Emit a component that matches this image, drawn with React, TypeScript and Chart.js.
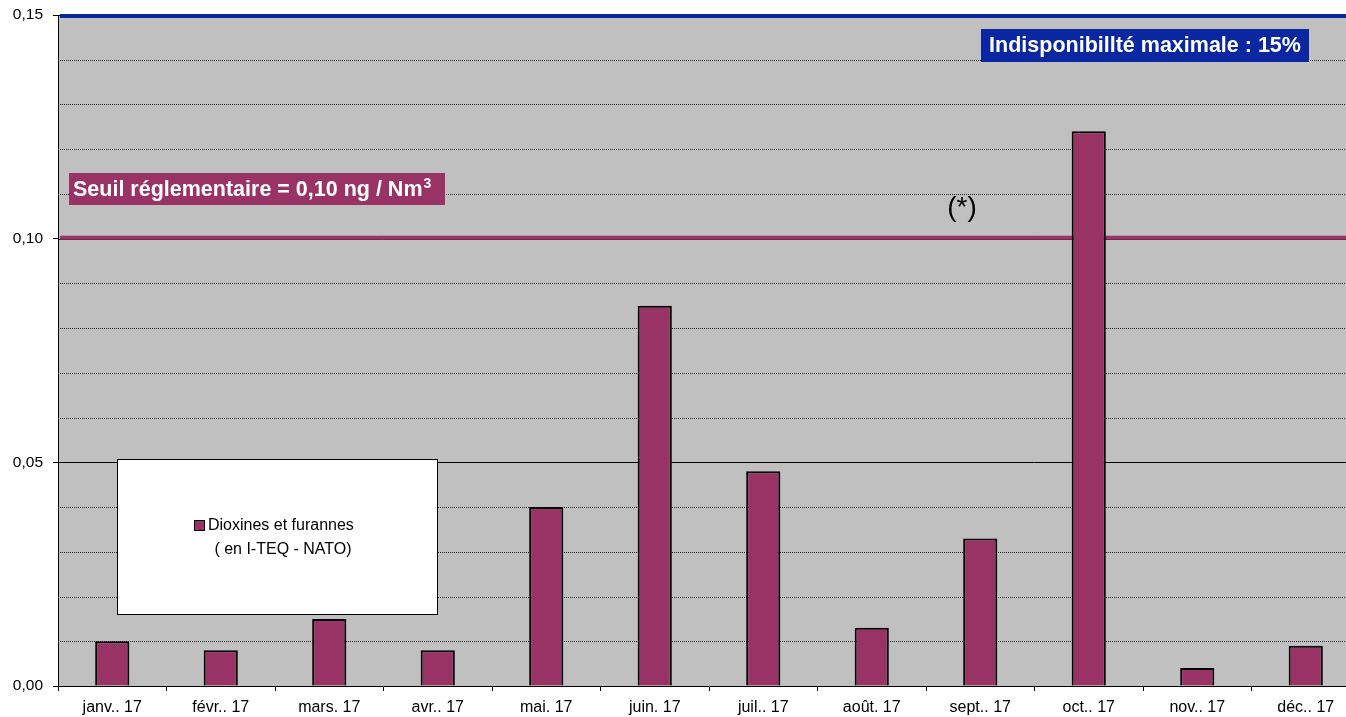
import React, { useEffect, useRef } from "react";
import { Chart, registerables } from "chart.js";

Chart.register(...registerables);

const categories: string[] = [
  "janv.. 17", "févr.. 17", "mars. 17", "avr.. 17", "mai. 17", "juin. 17",
  "juil.. 17", "août. 17", "sept.. 17", "oct.. 17", "nov.. 17", "déc.. 17",
];
const dioxinValues: number[] = [0.010, 0.008, 0.015, 0.008, 0.040, 0.085, 0.048, 0.013, 0.033, 0.124, 0.004, 0.009];
const seriesLabel = "Dioxines et furannes";
const seriesSubLabel = "( en I-TEQ - NATO)";
const maxUnavailability = 0.15;
const regulatoryThreshold = 0.10;
const maxLabel = "Indisponibillté maximale : 15%";
const thresholdLabel = "Seuil réglementaire = 0,10 ng / Nm";
const thresholdSup = "3";
const noteLabel = "(*)";
const yMin = 0;
const yMax = 0.15;
const yStep = 0.01;

const BAR = "#993366";
const BLUE = "#0a26a0";
const FONT = "'Liberation Sans', Arial, sans-serif";

const decorPlugin = {
  id: "decor",
  beforeDraw(chart: any) {
    const { ctx, chartArea: a } = chart;
    ctx.save();
    ctx.fillStyle = "#c0c0c0";
    ctx.fillRect(a.left, a.top, a.right - a.left, a.bottom - a.top);
    ctx.restore();
  },
  beforeDatasetsDraw(chart: any) {
    const { ctx, chartArea: a } = chart;
    const y = chart.scales.y;
    ctx.save();
    y.ticks.forEach((t: any) => {
      const v = t.value;
      const n = Math.round(v * 100);
      if (n === 0) return;
      const py = Math.round(y.getPixelForValue(v)) + 0.5;
      ctx.beginPath();
      if (n % 5 === 0) {
        ctx.setLineDash([]);
        ctx.strokeStyle = "#000";
      } else {
        ctx.setLineDash([1, 1]);
        ctx.strokeStyle = "#222";
      }
      ctx.lineWidth = 1;
      ctx.moveTo(a.left, py);
      ctx.lineTo(a.right, py);
      ctx.stroke();
    });
    ctx.setLineDash([]);
    const drawLine = (val: number, color: string, off: number) => {
      const py = y.getPixelForValue(val);
      ctx.beginPath();
      ctx.strokeStyle = color;
      ctx.lineWidth = 4;
      ctx.moveTo(a.left + 2, py + off);
      ctx.lineTo(a.right, py + off);
      ctx.stroke();
    };
    drawLine(maxUnavailability, BLUE, 1);
    drawLine(regulatoryThreshold, BAR, -1);
    ctx.restore();
  },
  afterDatasetsDraw(chart: any) {
    const { ctx } = chart;
    ctx.save();
    ctx.fillStyle = BLUE;
    ctx.fillRect(981, 29, 328, 33);
    ctx.fillStyle = "#fff";
    ctx.font = `bold 21.5px ${FONT}`;
    ctx.textBaseline = "middle";
    ctx.textAlign = "center";
    ctx.fillText(maxLabel, 1145, 46.5);

    ctx.fillStyle = BAR;
    ctx.fillRect(69, 173, 376, 32);
    ctx.fillStyle = "#fff";
    ctx.font = `bold 21.5px ${FONT}`;
    ctx.textAlign = "left";
    ctx.fillText(thresholdLabel, 73, 190);
    const w = ctx.measureText(thresholdLabel).width;
    ctx.font = `bold 14px ${FONT}`;
    ctx.fillText(thresholdSup, 73 + w + 1, 184);

    ctx.fillStyle = "#000";
    ctx.font = `28px ${FONT}`;
    ctx.textAlign = "center";
    ctx.fillText(noteLabel, 962, 208);

    ctx.fillStyle = "#fff";
    ctx.fillRect(117, 459, 320, 155);
    ctx.strokeStyle = "#000";
    ctx.lineWidth = 1;
    ctx.strokeRect(117.5, 459.5, 320, 155);
    ctx.fillStyle = BAR;
    ctx.fillRect(195, 521, 9, 9);
    ctx.strokeRect(194.5, 520.5, 10, 10);
    ctx.fillStyle = "#000";
    ctx.font = `16px ${FONT}`;
    ctx.textAlign = "left";
    ctx.fillText(seriesLabel, 208, 526);
    ctx.textAlign = "center";
    ctx.fillText(seriesSubLabel, 283, 550);
    ctx.restore();
  },
};

export default function App() {
  const ref = useRef<HTMLCanvasElement | null>(null);
  useEffect(() => {
    if (!ref.current) return;
    const chart = new Chart(ref.current, {
      type: "bar",
      data: {
        labels: categories,
        datasets: [
          {
            label: seriesLabel,
            data: dioxinValues,
            backgroundColor: BAR,
            borderColor: "#000",
            borderWidth: 2,
            barPercentage: 1,
            categoryPercentage: 0.315,
          },
        ],
      },
      options: {
        responsive: false,
        animation: false,
        devicePixelRatio: 1,
        layout: { padding: { top: 15, right: 2, left: 0, bottom: 0 } },
        plugins: { legend: { display: false }, tooltip: { enabled: false } },
        scales: {
          x: {
            offset: true,
            grid: {
              offset: true,
              drawOnChartArea: false,
              drawTicks: true,
              tickLength: 5,
              color: "#000",
            },
            border: { display: true, color: "#000", width: 1 },
            ticks: {
              color: "#000",
              font: { family: FONT, size: 16 },
              padding: 7,
              maxRotation: 0,
              autoSkip: false,
            },
            afterFit(scale: any) {
              scale.height = 31;
              scale.paddingLeft = 0;
              scale.paddingRight = 0;
            },
          },
          y: {
            min: yMin,
            max: yMax,
            grid: {
              drawOnChartArea: false,
              drawTicks: true,
              tickLength: 5,
              tickColor: (c: any) =>
                Math.round((c.tick?.value ?? 0) * 100) % 5 === 0 ? "#000" : "rgba(0,0,0,0)",
            },
            border: { display: true, color: "#000", width: 1 },
            ticks: {
              stepSize: yStep,
              autoSkip: false,
              color: "#000",
              font: { family: FONT, size: 15.5 },
              padding: 10,
              callback: (v: any) => {
                const n = Math.round(Number(v) * 100);
                return n % 5 === 0 ? (n / 100).toFixed(2).replace(".", ",") : "";
              },
            },
            afterFit(scale: any) {
              scale.width = 58;
              scale.paddingTop = 0;
              scale.paddingBottom = 0;
            },
          },
        },
      },
      plugins: [decorPlugin],
    } as any);
    return () => chart.destroy();
  }, []);
  return (
    <div
      style={{
        position: "fixed",
        left: 0,
        top: 0,
        width: 1346,
        height: 717,
        overflow: "hidden",
        background: "#fff",
      }}
    >
      <canvas ref={ref} width={1362} height={717} style={{ display: "block", width: 1362, height: 717 }} />
    </div>
  );
}
